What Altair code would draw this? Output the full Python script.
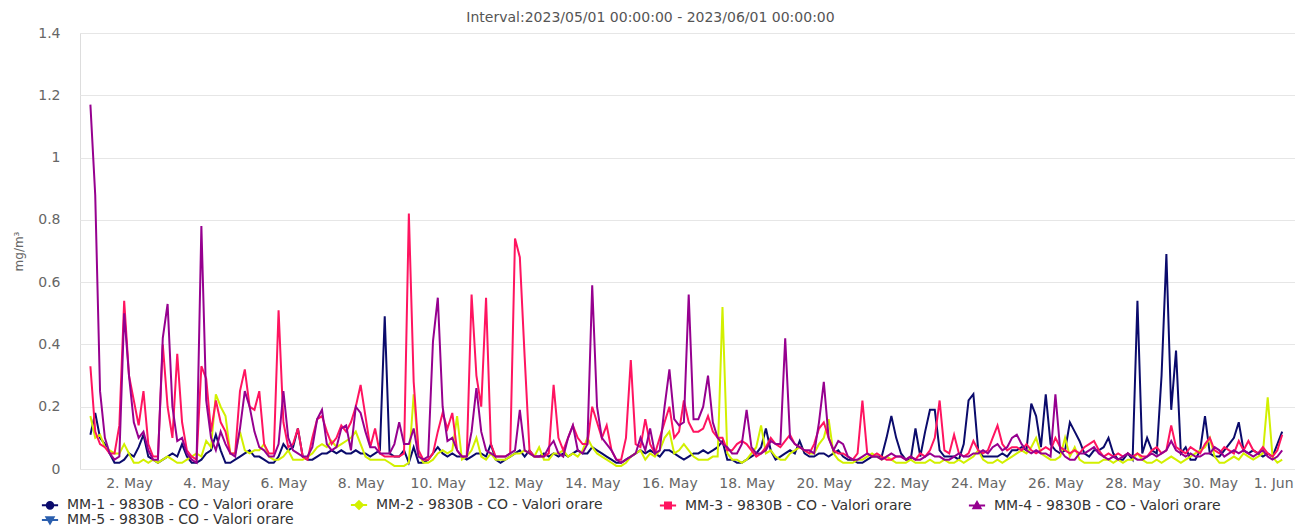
import altair as alt
import pandas as pd

title_text = "Interval:2023/05/01 00:00:00 - 2023/06/01 00:00:00"
y_title = "mg/m³"

series_names = [
    "MM-1 - 9830B - CO - Valori orare",
    "MM-2 - 9830B - CO - Valori orare",
    "MM-3 - 9830B - CO - Valori orare",
    "MM-4 - 9830B - CO - Valori orare",
    "MM-5 - 9830B - CO - Valori orare",
]
series_colors = ["#0b0b6c", "#d2f000", "#ff1460", "#96008f", "#2b5fae"]
legend_shapes = [
    "M-1.35,0L1.35,0M-0.55,0A0.55,0.55,0,1,0,0.55,0A0.55,0.55,0,1,0,-0.55,0Z",
    "M-1.35,0L1.35,0M0,-0.65L0.65,0L0,0.65L-0.65,0Z",
    "M-1.35,0L1.35,0M-0.5,-0.5L0.5,-0.5L0.5,0.5L-0.5,0.5Z",
    "M-1.35,0L1.35,0M0,-0.6L0.6,0.45L-0.6,0.45Z",
    "M-1.35,0L1.35,0M-0.6,-0.45L0.6,-0.45L0,0.6Z",
]

# 3-hourly values, one row per day (00,03,...,21 h), May 1 - May 31
mm1 = [
    0.11, 0.18, 0.10, 0.08, 0.05, 0.02, 0.02, 0.03,
    0.05, 0.04, 0.07, 0.11, 0.04, 0.03, 0.02, 0.03,
    0.04, 0.05, 0.04, 0.08, 0.04, 0.02, 0.02, 0.03,
    0.05, 0.06, 0.11, 0.06, 0.02, 0.02, 0.03, 0.04,
    0.05, 0.06, 0.04, 0.04, 0.03, 0.02, 0.02, 0.04,
    0.08, 0.06, 0.07, 0.13, 0.04, 0.03, 0.03, 0.04,
    0.05, 0.05, 0.06, 0.05, 0.06, 0.05, 0.05, 0.06,
    0.05, 0.05, 0.04, 0.05, 0.06, 0.49, 0.05, 0.04,
    0.04, 0.06, 0.02, 0.07, 0.02, 0.02, 0.03, 0.05,
    0.07, 0.05, 0.04, 0.05, 0.04, 0.04, 0.03, 0.04,
    0.05, 0.05, 0.04, 0.08, 0.03, 0.02, 0.03, 0.04,
    0.05, 0.06, 0.04, 0.06, 0.04, 0.04, 0.05, 0.04,
    0.05, 0.04, 0.05, 0.04, 0.05, 0.06, 0.05, 0.05,
    0.07, 0.06, 0.05, 0.04, 0.03, 0.02, 0.02, 0.03,
    0.04, 0.05, 0.06, 0.05, 0.06, 0.05, 0.04, 0.06,
    0.06, 0.05, 0.04, 0.03, 0.04, 0.05, 0.05, 0.06,
    0.05, 0.06, 0.07, 0.09, 0.03, 0.03, 0.02, 0.02,
    0.03, 0.04, 0.05, 0.07, 0.13, 0.06, 0.03, 0.04,
    0.05, 0.06, 0.05, 0.09, 0.05, 0.04, 0.04, 0.05,
    0.05, 0.04, 0.05, 0.06, 0.04, 0.03, 0.03, 0.02,
    0.02, 0.03, 0.04, 0.04, 0.04, 0.10, 0.17, 0.10,
    0.05, 0.03, 0.03, 0.13, 0.04, 0.12, 0.19, 0.19,
    0.06, 0.04, 0.04, 0.04, 0.03, 0.08, 0.22, 0.24,
    0.06, 0.04, 0.04, 0.04, 0.04, 0.05, 0.04, 0.06,
    0.06, 0.07, 0.06, 0.21, 0.17, 0.07, 0.24, 0.08,
    0.06, 0.05, 0.06, 0.15, 0.12, 0.09, 0.05, 0.04,
    0.06, 0.06, 0.07, 0.10, 0.05, 0.03, 0.03, 0.05,
    0.03, 0.54, 0.05, 0.10, 0.06, 0.05, 0.30, 0.69,
    0.19, 0.38, 0.05, 0.07, 0.03, 0.03, 0.06, 0.17,
    0.05, 0.04, 0.04, 0.06, 0.08, 0.10, 0.15, 0.06,
    0.05, 0.06, 0.05, 0.04, 0.05, 0.04, 0.08, 0.12,
]
mm2 = [
    0.17, 0.10, 0.11, 0.07, 0.06, 0.05, 0.05, 0.08,
    0.05, 0.02, 0.02, 0.03, 0.02, 0.03, 0.02, 0.03,
    0.04, 0.03, 0.02, 0.02, 0.03, 0.04, 0.05, 0.04,
    0.09, 0.07, 0.24, 0.20, 0.17, 0.05, 0.05, 0.12,
    0.06, 0.05, 0.06, 0.06, 0.08, 0.04, 0.03, 0.03,
    0.04, 0.06, 0.03, 0.03, 0.03, 0.04, 0.05, 0.07,
    0.08, 0.07, 0.09, 0.07, 0.08, 0.09, 0.10, 0.12,
    0.08, 0.04, 0.03, 0.03, 0.03, 0.03, 0.02, 0.01,
    0.01, 0.01, 0.02, 0.24, 0.05, 0.02, 0.02, 0.03,
    0.05, 0.06, 0.05, 0.06, 0.17, 0.03, 0.04, 0.06,
    0.10, 0.04, 0.03, 0.05, 0.03, 0.03, 0.03, 0.04,
    0.05, 0.05, 0.06, 0.05, 0.04, 0.07, 0.03, 0.03,
    0.05, 0.05, 0.06, 0.04, 0.05, 0.04, 0.06, 0.10,
    0.07, 0.05, 0.04, 0.03, 0.02, 0.01, 0.01, 0.02,
    0.04, 0.05, 0.06, 0.03, 0.05, 0.04, 0.06, 0.10,
    0.12, 0.05, 0.06, 0.08, 0.06, 0.04, 0.03, 0.03,
    0.03, 0.04, 0.04, 0.52, 0.05, 0.03, 0.03, 0.02,
    0.03, 0.05, 0.07, 0.14, 0.05, 0.06, 0.04, 0.03,
    0.03, 0.05, 0.06, 0.07, 0.06, 0.05, 0.05, 0.08,
    0.10, 0.16, 0.05, 0.03, 0.02, 0.02, 0.02, 0.03,
    0.03, 0.04, 0.05, 0.04, 0.03, 0.04, 0.03, 0.02,
    0.02, 0.02, 0.03, 0.02, 0.02, 0.02, 0.03, 0.02,
    0.02, 0.03, 0.02, 0.02, 0.03, 0.02, 0.03, 0.04,
    0.06, 0.03, 0.02, 0.02, 0.03, 0.02, 0.03, 0.04,
    0.05, 0.06, 0.05, 0.07, 0.10, 0.05, 0.04, 0.03,
    0.03, 0.04, 0.10, 0.04, 0.07, 0.03, 0.02, 0.02,
    0.02, 0.02, 0.03, 0.03, 0.02, 0.03, 0.02, 0.03,
    0.03, 0.05, 0.03, 0.02, 0.02, 0.03, 0.02, 0.03,
    0.04, 0.03, 0.02, 0.03, 0.04, 0.05, 0.06, 0.07,
    0.10, 0.04, 0.02, 0.02, 0.03, 0.04, 0.03, 0.05,
    0.04, 0.03, 0.04, 0.05, 0.23, 0.04, 0.02, 0.03,
]
mm3 = [
    0.33, 0.12, 0.08, 0.07, 0.05, 0.05, 0.14, 0.54,
    0.30, 0.22, 0.14, 0.25, 0.08, 0.04, 0.04, 0.40,
    0.20, 0.10, 0.37, 0.15, 0.06, 0.04, 0.03, 0.33,
    0.29, 0.12, 0.22, 0.15, 0.12, 0.05, 0.05, 0.25,
    0.32, 0.20, 0.19, 0.25, 0.08, 0.05, 0.05, 0.51,
    0.15, 0.07, 0.08, 0.13, 0.04, 0.03, 0.10, 0.16,
    0.17, 0.12, 0.08, 0.10, 0.14, 0.12, 0.15, 0.20,
    0.27, 0.17, 0.07, 0.13, 0.05, 0.04, 0.04, 0.04,
    0.04, 0.05, 0.82, 0.28, 0.06, 0.03, 0.03, 0.05,
    0.12, 0.18, 0.13, 0.18, 0.06, 0.04, 0.04, 0.56,
    0.30, 0.20, 0.55, 0.08, 0.04, 0.04, 0.04, 0.05,
    0.74, 0.68, 0.36, 0.06, 0.04, 0.04, 0.04, 0.05,
    0.27, 0.10, 0.06, 0.10, 0.14, 0.10, 0.08, 0.08,
    0.20, 0.15, 0.10, 0.14, 0.06, 0.03, 0.03, 0.10,
    0.35, 0.08, 0.07, 0.16, 0.08, 0.05, 0.10, 0.15,
    0.20, 0.10, 0.12, 0.22, 0.15, 0.12, 0.12, 0.13,
    0.17, 0.12, 0.10, 0.10, 0.06, 0.06, 0.08, 0.09,
    0.08, 0.06, 0.04, 0.05, 0.07, 0.10, 0.08, 0.07,
    0.09, 0.11, 0.08, 0.07, 0.06, 0.05, 0.08, 0.13,
    0.15, 0.10, 0.06, 0.05, 0.05, 0.04, 0.03, 0.05,
    0.22, 0.05, 0.04, 0.05, 0.04, 0.03, 0.03, 0.04,
    0.04, 0.03, 0.04, 0.03, 0.05, 0.04, 0.06, 0.10,
    0.22, 0.06, 0.05, 0.11, 0.05, 0.04, 0.05, 0.09,
    0.06, 0.05, 0.06, 0.10, 0.14, 0.08, 0.06, 0.07,
    0.07, 0.06, 0.08, 0.06, 0.05, 0.06, 0.07, 0.06,
    0.10, 0.07, 0.06, 0.05, 0.06, 0.05, 0.07, 0.08,
    0.09, 0.06, 0.04, 0.05, 0.04, 0.05, 0.04, 0.05,
    0.04, 0.05, 0.04, 0.04, 0.06, 0.07, 0.05, 0.06,
    0.14, 0.07, 0.06, 0.05, 0.07, 0.06, 0.05, 0.08,
    0.10, 0.06, 0.05, 0.07, 0.06, 0.05, 0.09, 0.06,
    0.09, 0.06, 0.05, 0.07, 0.05, 0.04, 0.06, 0.11,
]
mm4 = [
    1.17, 0.88, 0.25, 0.10, 0.05, 0.03, 0.04, 0.50,
    0.30, 0.15, 0.10, 0.12, 0.06, 0.03, 0.03, 0.42,
    0.53, 0.20, 0.09, 0.10, 0.05, 0.03, 0.02, 0.78,
    0.22, 0.10, 0.06, 0.12, 0.08, 0.05, 0.04, 0.13,
    0.25, 0.20, 0.12, 0.07, 0.06, 0.04, 0.04, 0.08,
    0.25, 0.10, 0.06, 0.05, 0.04, 0.04, 0.07, 0.16,
    0.19, 0.08, 0.06, 0.07, 0.13, 0.14, 0.06, 0.20,
    0.18, 0.12, 0.07, 0.07, 0.05, 0.05, 0.05, 0.08,
    0.15, 0.08, 0.08, 0.13, 0.04, 0.03, 0.04, 0.41,
    0.55, 0.20, 0.09, 0.10, 0.06, 0.04, 0.04, 0.12,
    0.26, 0.12, 0.06, 0.05, 0.04, 0.04, 0.04, 0.05,
    0.06, 0.19, 0.06, 0.05, 0.04, 0.04, 0.04, 0.07,
    0.09, 0.05, 0.04, 0.10, 0.14, 0.06, 0.05, 0.08,
    0.59, 0.20, 0.10, 0.08, 0.06, 0.03, 0.02, 0.03,
    0.04, 0.05, 0.10, 0.06, 0.13, 0.05, 0.06, 0.20,
    0.32, 0.16, 0.14, 0.15, 0.56, 0.16, 0.16, 0.20,
    0.30, 0.15, 0.10, 0.08, 0.07, 0.05, 0.05, 0.08,
    0.19, 0.07, 0.05, 0.05, 0.06, 0.09, 0.08, 0.08,
    0.42, 0.10, 0.08, 0.07, 0.06, 0.06, 0.05, 0.15,
    0.28, 0.10, 0.06, 0.09, 0.08, 0.04, 0.03, 0.03,
    0.04, 0.05, 0.04, 0.04, 0.03, 0.04, 0.05, 0.04,
    0.04, 0.03, 0.04, 0.03, 0.03, 0.04, 0.05, 0.04,
    0.04, 0.03, 0.03, 0.04, 0.05, 0.04, 0.04, 0.05,
    0.05, 0.06, 0.05, 0.07, 0.08, 0.06, 0.07, 0.10,
    0.11, 0.08, 0.06, 0.05, 0.06, 0.05, 0.05, 0.04,
    0.24, 0.06, 0.04, 0.03, 0.03, 0.05, 0.05, 0.06,
    0.07, 0.05, 0.04, 0.03, 0.04, 0.03, 0.04, 0.05,
    0.04, 0.03, 0.03, 0.04, 0.05, 0.04, 0.05, 0.06,
    0.09, 0.06, 0.05, 0.04, 0.05, 0.04, 0.04, 0.05,
    0.05, 0.07, 0.06, 0.04, 0.05, 0.06, 0.05, 0.06,
    0.05, 0.04, 0.05, 0.06, 0.04, 0.03, 0.04, 0.06,
]

y_ticks = [0, 0.2, 0.4, 0.6, 0.8, 1.0, 1.2, 1.4]
x_tick_dates = [(2023, 5, d) for d in range(2, 32, 2)] + [(2023, 6, 1)]

times = pd.date_range("2023-05-01 00:00", periods=len(mm1), freq="3h")
rows = []
for name, vals in zip(series_names[:4], [mm1, mm2, mm3, mm4]):
    for t, v in zip(times, vals):
        rows.append({"time": t, "series": name, "value": v})
df = pd.DataFrame(rows)

FONT = "DejaVu Sans"

x_enc = alt.X(
    "time:T",
    scale=alt.Scale(domain=[
        alt.DateTime(year=2023, month=4, date=30, hours=17, minutes=32),
        alt.DateTime(year=2023, month=6, date=1, hours=4, minutes=58),
    ]),
    axis=alt.Axis(
        values=[alt.DateTime(year=y, month=m, date=d) for (y, m, d) in x_tick_dates],
        format="%-d. %b", title=None, grid=False, ticks=False, tickSize=0,
        domain=False, labelFont=FONT, labelFontSize=14, labelColor="#666666",
        labelPadding=7, labelFlush=10, labelFlushOffset=6, labelOverlap=False,
    ),
)
y_enc = alt.Y(
    "value:Q",
    scale=alt.Scale(domain=[0, 1.4], nice=False),
    axis=alt.Axis(
        values=y_ticks, format="~g", title=y_title, grid=True,
        gridColor="#e6e6e6", gridWidth=1, domain=False, ticks=False, tickSize=0,
        labelFont=FONT, labelFontSize=14, labelColor="#666666", labelPadding=20,
        titleFont=FONT, titleFontSize=12, titleFontWeight="normal",
        titleColor="#666666", titlePadding=12,
    ),
)

color_scale = alt.Scale(domain=series_names, range=series_colors)
shape_scale = alt.Scale(domain=series_names, range=legend_shapes)

leg = alt.Legend(
    title=None, orient="none", legendX=-37, legendY=465, columns=4,
    direction="horizontal", columnPadding=52, rowPadding=0, padding=0,
    symbolSize=144, symbolStrokeWidth=2, symbolOpacity=1,
    labelFont=FONT, labelFontSize=14, labelColor="#333333", labelOffset=10,
    labelLimit=400,
)

base = alt.Chart(df)

lines = base.mark_line(strokeWidth=2, interpolate="linear").encode(
    x=x_enc,
    y=y_enc,
    color=alt.Color("series:N", scale=color_scale, legend=leg),
)

marker_layer = base.transform_filter("datum.value > 100").mark_point(
    filled=True, opacity=1, strokeWidth=2, size=144
).encode(
    x=x_enc,
    y=y_enc,
    color=alt.Color("series:N", scale=color_scale, legend=leg),
    shape=alt.Shape("series:N", scale=shape_scale, legend=leg),
)

chart = alt.layer(lines, marker_layer).properties(
    width=1215,
    height=436,
    autosize=alt.AutoSizeParams(type="none"),
    padding={"left": 72, "top": 25, "right": 0, "bottom": 58},
    title=alt.TitleParams(
        text=title_text, font=FONT, fontSize=14, fontWeight="normal",
        color="#555555", anchor="middle", offset=1, dx=-37,
    ),
).configure_view(stroke=None).configure(background="white")

chart.save("out.html", embed_options={"renderer": "svg", "actions": False})
